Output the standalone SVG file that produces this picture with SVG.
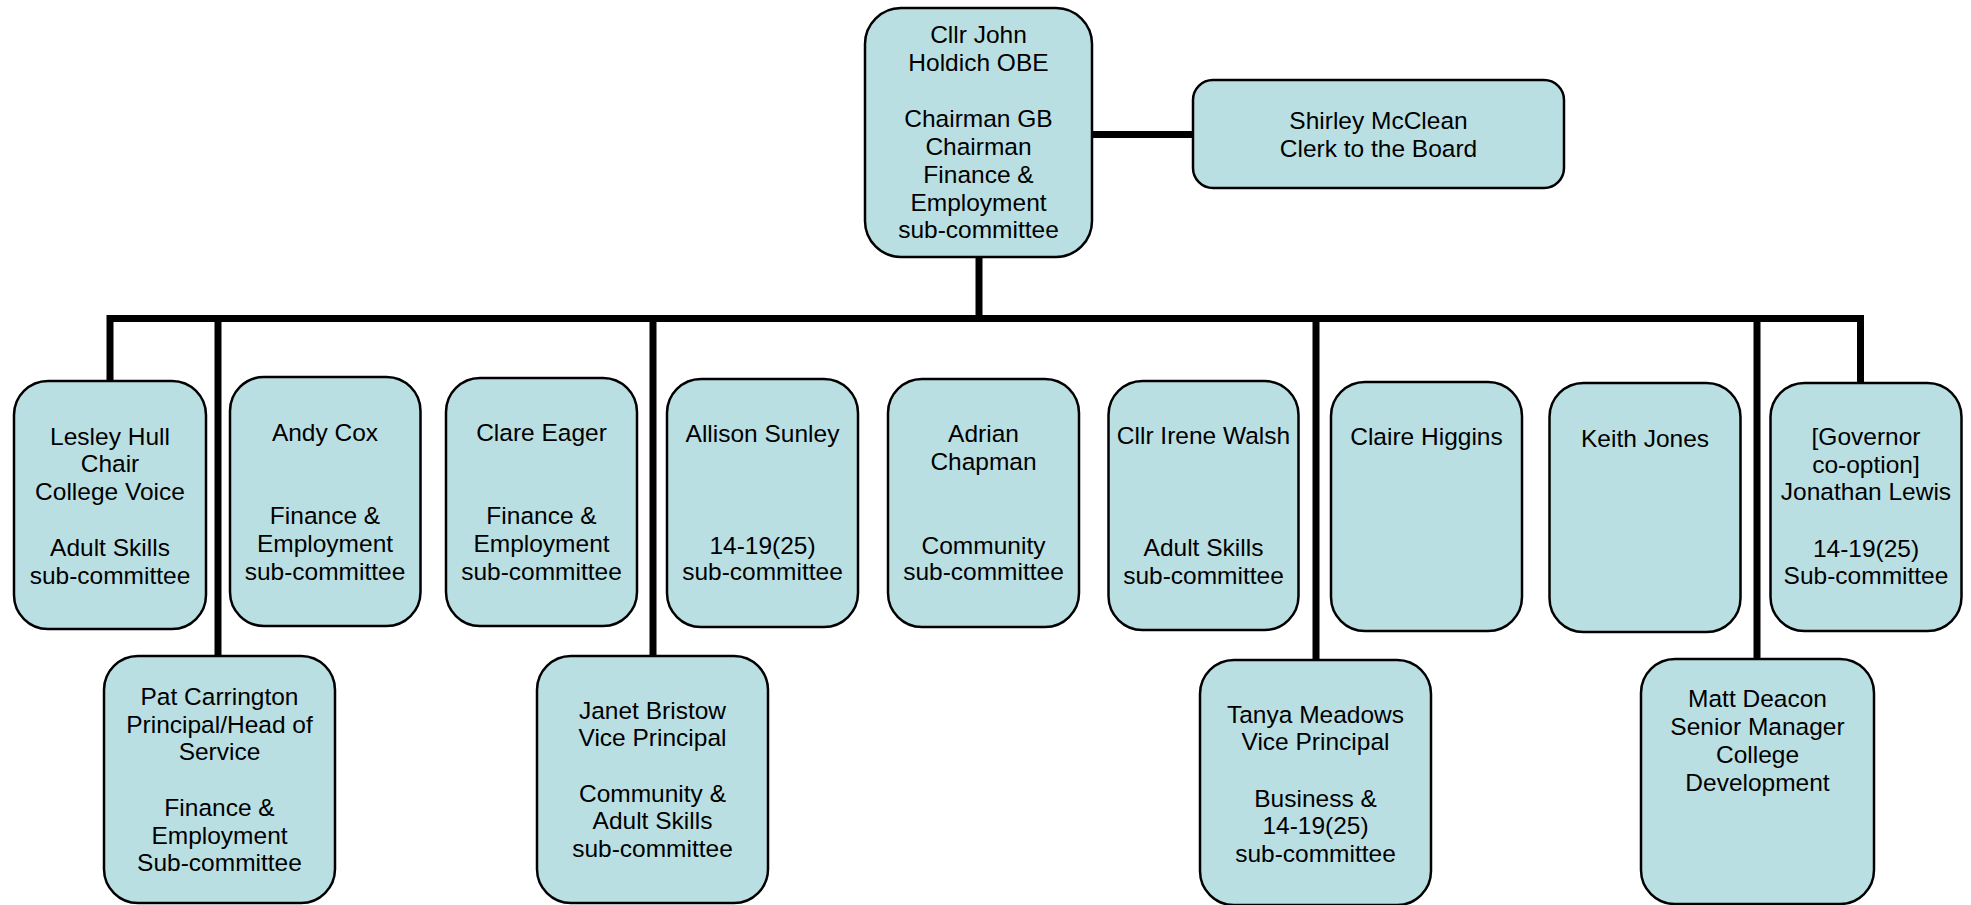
<svg xmlns="http://www.w3.org/2000/svg" width="1971" height="905" viewBox="0 0 1971 905">
<style>
.box{fill:#BADFE3;stroke:#000;stroke-width:2.5}
.t{font-family:"Liberation Sans",Arial,sans-serif;font-size:24.5px;fill:#000;text-anchor:middle}
.c{fill:none;stroke:#000;stroke-width:7;stroke-linejoin:miter;stroke-linecap:butt}
</style>
<rect width="1971" height="905" fill="#fff"/>
<g id="connectors">
<path class="c" d="M979,257 V318.5"/>
<path class="c" d="M1092,134.5 H1193"/>
<path class="c" d="M110,381 V318.5 H1860.5 V383"/>
<path class="c" d="M218,318.5 V656"/>
<path class="c" d="M653,318.5 V656"/>
<path class="c" d="M1316,318.5 V660"/>
<path class="c" d="M1757,318.5 V659"/>
</g>
<g id="holdich">
<rect class="box" x="865" y="8" width="227" height="249" rx="36" ry="36"/>
<text class="t"><tspan x="978.5" y="43">Cllr John</tspan><tspan x="978.5" y="71">Holdich OBE</tspan><tspan x="978.5" y="127">Chairman GB</tspan><tspan x="978.5" y="155">Chairman</tspan><tspan x="978.5" y="183">Finance &amp;</tspan><tspan x="978.5" y="211">Employment</tspan><tspan x="978.5" y="238">sub-committee</tspan></text>
</g>
<g id="mcclean">
<rect class="box" x="1193" y="80" width="371" height="108" rx="20" ry="20"/>
<text class="t"><tspan x="1378.5" y="129">Shirley McClean</tspan><tspan x="1378.5" y="156.5">Clerk to the Board</tspan></text>
</g>
<g id="hull">
<rect class="box" x="14" y="381" width="192" height="248" rx="34" ry="34"/>
<text class="t"><tspan x="110" y="445">Lesley Hull</tspan><tspan x="110" y="472">Chair</tspan><tspan x="110" y="499.5">College Voice</tspan><tspan x="110" y="556">Adult Skills</tspan><tspan x="110" y="583.5">sub-committee</tspan></text>
</g>
<g id="cox">
<rect class="box" x="230" y="377" width="190.5" height="249" rx="34" ry="34"/>
<text class="t"><tspan x="325" y="441">Andy Cox</tspan><tspan x="325" y="524">Finance &amp;</tspan><tspan x="325" y="552">Employment</tspan><tspan x="325" y="579.5">sub-committee</tspan></text>
</g>
<g id="eager">
<rect class="box" x="446" y="378" width="191" height="248" rx="34" ry="34"/>
<text class="t"><tspan x="541.5" y="441">Clare Eager</tspan><tspan x="541.5" y="524">Finance &amp;</tspan><tspan x="541.5" y="552">Employment</tspan><tspan x="541.5" y="579.5">sub-committee</tspan></text>
</g>
<g id="sunley">
<rect class="box" x="667" y="379" width="191" height="248" rx="34" ry="34"/>
<text class="t"><tspan x="762.5" y="441.5">Allison Sunley</tspan><tspan x="762.5" y="553.5">14-19(25)</tspan><tspan x="762.5" y="580">sub-committee</tspan></text>
</g>
<g id="chapman">
<rect class="box" x="888" y="379" width="191" height="248" rx="34" ry="34"/>
<text class="t"><tspan x="983.5" y="441.5">Adrian</tspan><tspan x="983.5" y="470">Chapman</tspan><tspan x="983.5" y="553.5">Community</tspan><tspan x="983.5" y="580">sub-committee</tspan></text>
</g>
<g id="walsh">
<rect class="box" x="1108.5" y="381" width="190" height="249" rx="34" ry="34"/>
<text class="t"><tspan x="1203.5" y="444">Cllr Irene Walsh</tspan><tspan x="1203.5" y="556">Adult Skills</tspan><tspan x="1203.5" y="583.5">sub-committee</tspan></text>
</g>
<g id="higgins">
<rect class="box" x="1331" y="382" width="191" height="249" rx="34" ry="34"/>
<text class="t" x="1426.5" y="445">Claire Higgins</text>
</g>
<g id="jones">
<rect class="box" x="1549.5" y="383" width="191" height="249" rx="34" ry="34"/>
<text class="t" x="1645" y="446.5">Keith Jones</text>
</g>
<g id="lewis">
<rect class="box" x="1770.5" y="383" width="191" height="248" rx="34" ry="34"/>
<text class="t"><tspan x="1866" y="445">[Governor</tspan><tspan x="1866" y="473">co-option]</tspan><tspan x="1866" y="500">Jonathan Lewis</tspan><tspan x="1866" y="556.5">14-19(25)</tspan><tspan x="1866" y="584">Sub-committee</tspan></text>
</g>
<g id="carrington">
<rect class="box" x="104" y="656" width="231" height="247" rx="34" ry="34"/>
<text class="t"><tspan x="219.5" y="705">Pat Carrington</tspan><tspan x="219.5" y="732.5">Principal/Head of</tspan><tspan x="219.5" y="760">Service</tspan><tspan x="219.5" y="816">Finance &amp;</tspan><tspan x="219.5" y="843.5">Employment</tspan><tspan x="219.5" y="871">Sub-committee</tspan></text>
</g>
<g id="bristow">
<rect class="box" x="537" y="656" width="231" height="247" rx="34" ry="34"/>
<text class="t"><tspan x="652.5" y="718.5">Janet Bristow</tspan><tspan x="652.5" y="746">Vice Principal</tspan><tspan x="652.5" y="801.5">Community &amp;</tspan><tspan x="652.5" y="829">Adult Skills</tspan><tspan x="652.5" y="856.5">sub-committee</tspan></text>
</g>
<g id="meadows">
<rect class="box" x="1200" y="660" width="231" height="245" rx="34" ry="34"/>
<text class="t"><tspan x="1315.5" y="722.5">Tanya Meadows</tspan><tspan x="1315.5" y="750">Vice Principal</tspan><tspan x="1315.5" y="806.5">Business &amp;</tspan><tspan x="1315.5" y="834">14-19(25)</tspan><tspan x="1315.5" y="861.5">sub-committee</tspan></text>
</g>
<g id="deacon">
<rect class="box" x="1641" y="659" width="233" height="245" rx="34" ry="34"/>
<text class="t"><tspan x="1757.5" y="707">Matt Deacon</tspan><tspan x="1757.5" y="735">Senior Manager</tspan><tspan x="1757.5" y="763">College</tspan><tspan x="1757.5" y="790.5">Development</tspan></text>
</g>
</svg>
